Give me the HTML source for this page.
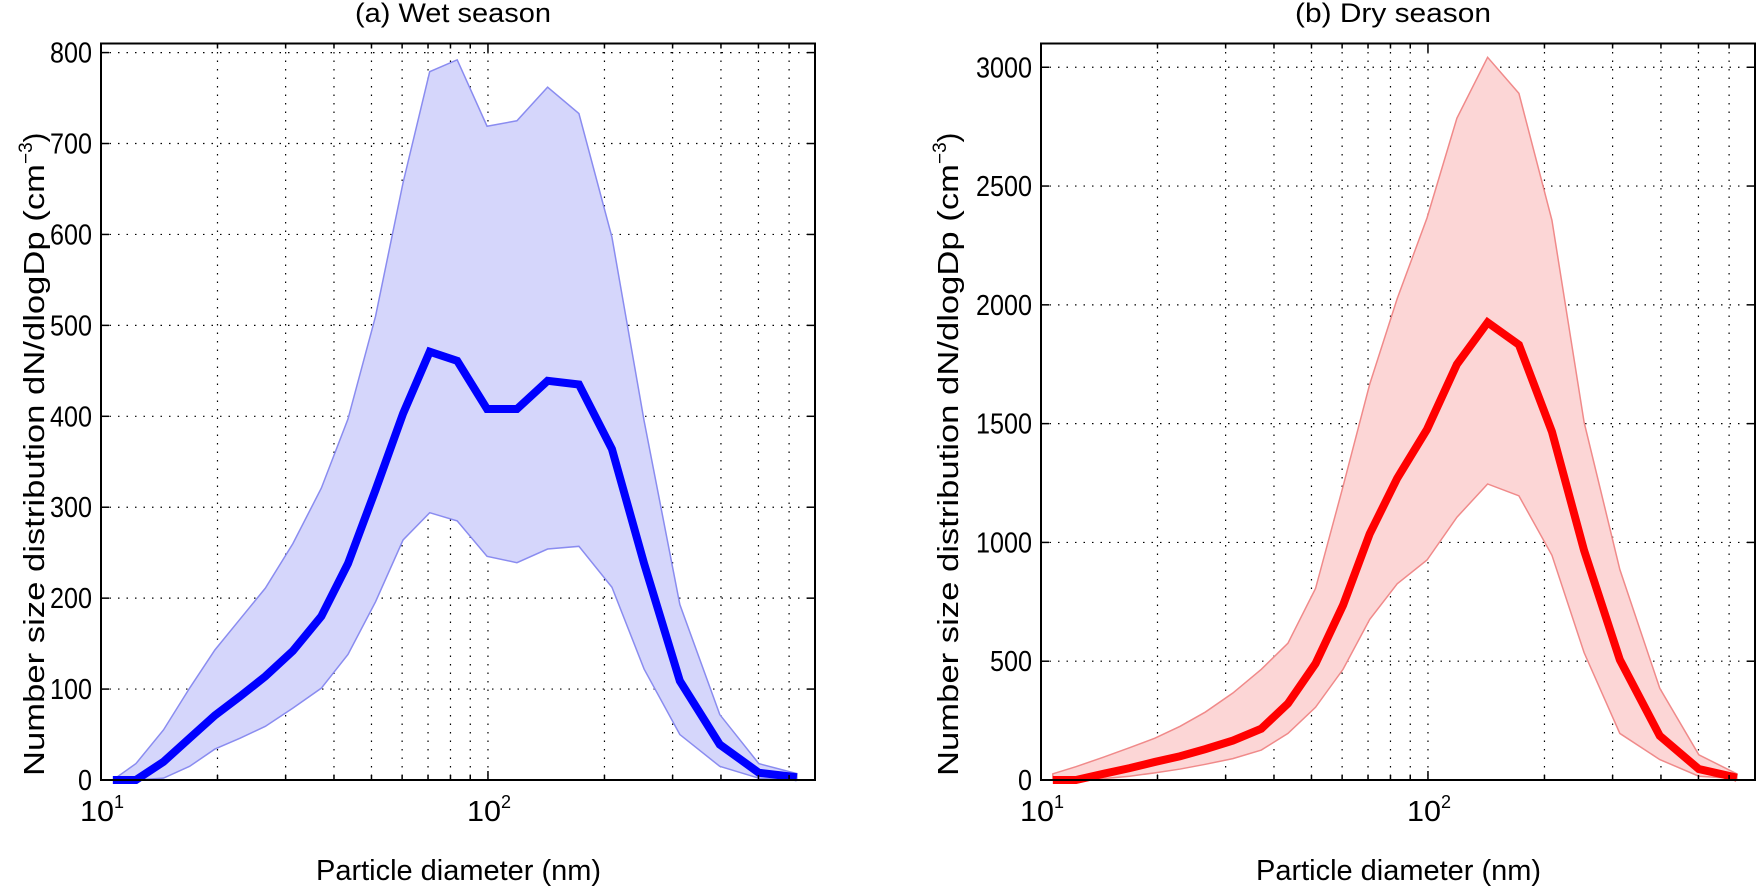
<!DOCTYPE html>
<html><head><meta charset="utf-8"><style>
html,body{margin:0;padding:0;background:#fff;}
svg{display:block;font-family:"Liberation Sans",Arial,sans-serif;}
</style></head><body>
<svg id="fig" width="1760" height="890" viewBox="0 0 1760 890" xmlns="http://www.w3.org/2000/svg"></svg>
<script>
const diameters=[10.73,12.31,14.50,16.94,19.69,22.88,26.59,31.32,37.10,43.47,51.22,60.34,70.70,83.27,99.45,118.8,142.6,171.8,209.1,253.2,313.2,397.2,501.1,628.4];
const wetMean=[0,0,20,46,71,92,114,142,180,238,319,403,471,461,408,408,439,435,364,238,109,39,8,3];
const wetUpper=[0,18,55,101,143,177,211,260,321,397,510,657,779,792,719,725,762,733,597,395,193,72,18,7];
const wetLower=[0,0,2,15,34,46,59,79,101,138,196,264,294,285,246,239,254,257,212,122,50,15,2,0];
const dryMean=[0,0,26,50,76,100,130,166,216,322,490,736,1036,1270,1476,1750,1926,1832,1466,966,506,186,46,10];
const dryUpper=[26,56,96,136,176,226,286,366,466,576,806,1236,1666,2026,2366,2786,3042,2890,2356,1506,886,386,106,26];
const dryLower=[0,0,6,16,30,46,66,90,126,196,306,466,676,826,926,1106,1246,1196,946,536,196,86,16,6];
const wetYTicks=[0,100,200,300,400,500,600,700,800];
const dryYTicks=[0,500,1000,1500,2000,2500,3000];
const xMajor=[10,100];
const xMinor=[20,30,40,50,60,70,80,90,200,300,400,500,600];

const NS="http://www.w3.org/2000/svg";
const svg=document.getElementById('fig');
function mk(tag,attrs,parent){const e=document.createElementNS(NS,tag);for(const k in attrs)e.setAttribute(k,attrs[k]);(parent||svg).appendChild(e);return e;}

function panel(cfg){
  const L=cfg.left,R=cfg.left+714,T=43.5,B=780;
  const xmin=1,xmax=Math.log10(700);
  const X=d=>L+(Math.log10(d)-xmin)/(xmax-xmin)*(R-L);
  const Y=v=>B-(v/cfg.ymax)*(B-T);
  const g=mk('g',{});
  
  
  const grid=mk('g',{stroke:'#000','stroke-width':1.2,'stroke-dasharray':'1.5 7'},g);
  
  
  cfg.yticks.forEach(v=>{ if(v>0) mk('line',{x1:L,x2:R,y1:Y(v),y2:Y(v)},grid);});
  xMajor.concat(xMinor).forEach(d=>{ if(d>10) mk('line',{x1:X(d),x2:X(d),y1:T,y2:B},grid);});
  let pts=diameters.map((d,i)=>X(d)+','+Y(cfg.upper[i]));
  for(let i=diameters.length-1;i>=0;i--) pts.push(X(diameters[i])+','+Y(cfg.lower[i]));
  const band=mk('polygon',{points:pts.join(' '),fill:cfg.fill,stroke:cfg.edge,'stroke-width':1.5},g);
  
  
  const mean=mk('polyline',{points:diameters.map((d,i)=>X(d)+','+Y(cfg.mean[i])).join(' '),fill:'none',stroke:cfg.line,'stroke-width':8,'stroke-linejoin':'miter'},g);
  
  
  const box=mk('rect',{x:L,y:T,width:R-L,height:B-T,fill:'none',stroke:'#000','stroke-width':2},g);
  
  
  const tk=mk('g',{stroke:'#000','stroke-width':1.5},g);
  
  
  cfg.yticks.forEach(v=>{mk('line',{x1:L,x2:L+8,y1:Y(v),y2:Y(v)},tk);mk('line',{x1:R,x2:R-8,y1:Y(v),y2:Y(v)},tk);});
  xMajor.forEach(d=>{mk('line',{x1:X(d),x2:X(d),y1:B,y2:B-9},tk);mk('line',{x1:X(d),x2:X(d),y1:T,y2:T+9},tk);});
  xMinor.forEach(d=>{mk('line',{x1:X(d),x2:X(d),y1:B,y2:B-5},tk);mk('line',{x1:X(d),x2:X(d),y1:T,y2:T+5},tk);});
  cfg.yticks.forEach(v=>{
    const s=String(v);
    const w=s.length*14;
    const t=mk('text',{x:L-9-w,y:Y(v)+10,'font-size':29,textLength:w,lengthAdjust:'spacingAndGlyphs'},g);
    t.textContent=s;
    
    
  });
  [[10,'1'],[100,'2']].forEach(p=>{
    const t=mk('text',{x:X(p[0])-21,y:821,'font-size':29},g);
    const a=mk('tspan',{textLength:34,lengthAdjust:'spacingAndGlyphs'},t);a.textContent='10';
    const s=mk('tspan',{dy:-13,'font-size':18},t);
    s.textContent=p[1];
    
    
  });
  const xl=mk('text',{x:(L+R)/2-142,y:880,'font-size':29,textLength:285,lengthAdjust:'spacingAndGlyphs'},g);
  xl.textContent='Particle diameter (nm)';
  
  
  const yl=mk('text',{x:-325,y:0,'font-size':29,transform:`translate(${cfg.ylx},451) rotate(-90)`},g);
  const ya=mk('tspan',{textLength:612,lengthAdjust:'spacingAndGlyphs'},yl);
  ya.textContent='Number size distribution dN/dlogDp (cm';
  const sup=mk('tspan',{dy:-12,'font-size':19},yl);sup.textContent='−3';
  const cl=mk('tspan',{dy:12},yl);cl.textContent=')';
  
  
  const ti=mk('text',{x:(L+R)/2-103,y:22,'font-size':27,textLength:196,lengthAdjust:'spacingAndGlyphs'},g);
  ti.textContent=cfg.title;
  
  
}
panel({name:'wet-season-panel',left:101,ymax:810,yticks:wetYTicks,mean:wetMean,upper:wetUpper,lower:wetLower,fill:'#d5d6fb',edge:'#8a8cf0',line:'#0000ff',title:'(a) Wet season',ylx:44});
panel({name:'dry-season-panel',left:1041,ymax:3100,yticks:dryYTicks,mean:dryMean,upper:dryUpper,lower:dryLower,fill:'#fcd6d6',edge:'#f08a8a',line:'#ff0000',title:'(b) Dry season',ylx:958});
</script>
</body></html>
